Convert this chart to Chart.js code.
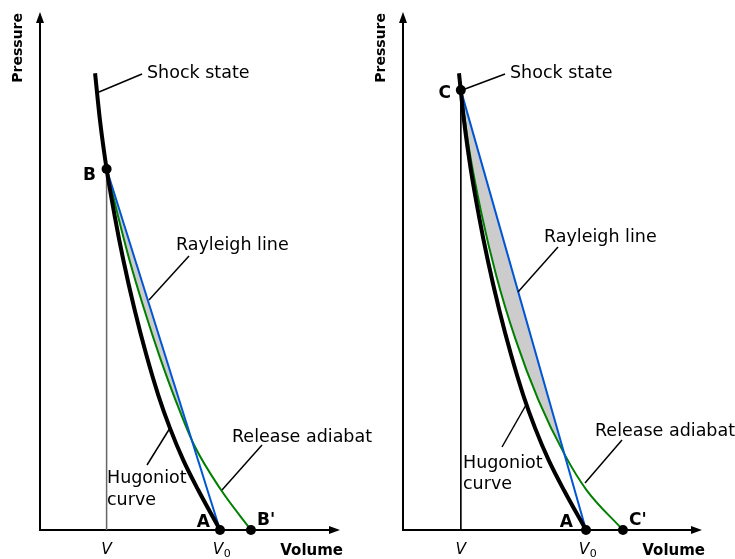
<!DOCTYPE html>
<html>
<head>
<meta charset="utf-8">
<script src="https://cdn.jsdelivr.net/npm/chart.js@4"></script>
<style>
  html, body { margin: 0; padding: 0; background: #fff; }
  #wrap { position: relative; width: 735px; height: 559px; overflow: hidden; }
  canvas { position: absolute; top: 0; display: block; }
  #left { left: 0; }
  #right { left: 367px; }
</style>
</head>
<body>
<div id="wrap">
  <canvas id="left" width="380" height="559"></canvas>
  <canvas id="right" width="368" height="559"></canvas>
</div>
<script>
// Volume is relative to V0, pressure in arbitrary units
const hugoniotV = [0.306, 0.333, 0.37, 0.414, 0.463, 0.526, 0.591, 0.657, 0.722, 0.796, 0.879, 1.0];
const hugoniotP = [12.69, 11.39, 10.03, 8.75, 7.5, 6.11, 4.86, 3.75, 2.83, 1.94, 1.11, 0];

// Left panel: shock to B, release to B'
const leftRayleighV = [0.37, 1.0];
const leftRayleighP = [10.03, 0];
const leftReleaseV = [0.37, 0.432, 0.497, 0.58, 0.662, 0.753, 0.856, 1.006, 1.172];
const leftReleaseP = [10.03, 8.75, 7.5, 6.11, 4.86, 3.61, 2.36, 1.11, 0];
const leftStateV = [0.37, 1.0, 1.172];
const leftStateP = [10.03, 0, 0];

// Right panel: stronger shock to C, release to C'
const rightRayleighV = [0.316, 1.0];
const rightRayleighP = [12.22, 0];
const rightReleaseV = [0.316, 0.362, 0.428, 0.509, 0.616, 0.74, 0.885, 1.003, 1.202];
const rightReleaseP = [12.22, 10.56, 8.81, 7.08, 5.28, 3.61, 2.08, 1.11, 0];
const rightStateV = [0.316, 1.0, 1.202];
const rightStateP = [12.22, 0, 0];

const tickLabels = ['V', 'V0'];

const FONT = '"DejaVu Sans", Verdana, sans-serif';
const pts = (vs, ps) => vs.map((v, i) => ({ x: v, y: ps[i] }));

// axes with arrow heads, drawn under the curves
const axesPlugin = {
  id: 'axesPlugin',
  beforeDatasetsDraw(chart) {
    const ctx = chart.ctx;
    const xs = chart.scales.x, ys = chart.scales.y;
    const x0 = xs.getPixelForValue(0), y0 = ys.getPixelForValue(0);
    const top = chart.chartArea.top, right = chart.chartArea.right;
    ctx.save();
    ctx.strokeStyle = '#000';
    ctx.fillStyle = '#000';
    ctx.lineWidth = 2;
    ctx.beginPath();
    ctx.moveTo(x0, y0 + 1);
    ctx.lineTo(x0, top + 8);
    ctx.moveTo(x0 - 1, y0);
    ctx.lineTo(right - 8, y0);
    ctx.stroke();
    ctx.beginPath();
    ctx.moveTo(x0, top);
    ctx.lineTo(x0 - 4, top + 11);
    ctx.lineTo(x0 + 4, top + 11);
    ctx.closePath();
    ctx.fill();
    ctx.beginPath();
    ctx.moveTo(right, y0);
    ctx.lineTo(right - 11, y0 - 4);
    ctx.lineTo(right - 11, y0 + 4);
    ctx.closePath();
    ctx.fill();
    ctx.restore();
  }
};

// labels, leader lines and the V / V0 ticks
const notesPlugin = {
  id: 'notesPlugin',
  afterDatasetsDraw(chart, args, opts) {
    const ctx = chart.ctx;
    const xs = chart.scales.x;
    ctx.save();
    ctx.strokeStyle = '#000';
    ctx.lineWidth = 1.5;
    opts.leaders.forEach(l => {
      ctx.beginPath();
      ctx.moveTo(l[0], l[1]);
      ctx.lineTo(l[2], l[3]);
      ctx.stroke();
    });
    ctx.fillStyle = '#000';
    ctx.textBaseline = 'alphabetic';
    opts.texts.forEach(t => {
      ctx.font = t.font || ('17.5px ' + FONT);
      ctx.textAlign = t.align || 'left';
      ctx.fillText(t.text, t.x, t.y);
    });

    // axis names
    ctx.font = 'bold 15px ' + FONT;
    ctx.textAlign = 'right';
    ctx.fillText('Volume', chart.chartArea.right + 3, 555);
    ctx.save();
    ctx.translate(opts.pressureX, 13);
    ctx.rotate(-Math.PI / 2);
    ctx.font = 'bold 14px ' + FONT;
    ctx.textAlign = 'right';
    ctx.textBaseline = 'middle';
    ctx.fillText('Pressure', 0, 0);
    ctx.restore();

    // ticks at V and V0
    opts.ticks.forEach((v, i) => {
      const px = xs.getPixelForValue(v);
      const name = tickLabels[i];
      ctx.font = 'oblique 15.5px ' + FONT;
      ctx.textAlign = 'center';
      if (name.length === 1) {
        ctx.fillText(name, px, 554);
      } else {
        ctx.fillText(name[0], px - 2, 554);
        const w = ctx.measureText(name[0]).width;
        ctx.font = '11px ' + FONT;
        ctx.textAlign = 'left';
        ctx.fillText(name.slice(1), px - 2 + w / 2 + 0.5, 557);
      }
    });
    ctx.restore();
  }
};

function panelDatasets(stateV, stateP, rayV, rayP, relV, relP, lineColor, lineWidth) {
  return [
    { label: 'States', data: pts(stateV, stateP), showLine: false,
      pointRadius: 5, pointBackgroundColor: '#000', pointBorderWidth: 0, clip: false },
    { label: 'Hugoniot curve', data: pts(hugoniotV, hugoniotP), borderColor: '#000', borderWidth: 4,
      cubicInterpolationMode: 'monotone', pointRadius: 0, fill: false, clip: false },
    { label: 'Rayleigh line', data: pts(rayV, rayP), borderColor: '#0055d4', borderWidth: 2,
      pointRadius: 0, clip: false,
      fill: { target: 3, above: '#cccccc', below: 'rgba(0,0,0,0)' } },
    { label: 'Release adiabat', data: pts(relV, relP), borderColor: '#008000', borderWidth: 2,
      cubicInterpolationMode: 'monotone', pointRadius: 0, fill: false, clip: false },
    { label: 'V', data: pts([stateV[0], stateV[0]], [stateP[0], 0]), borderColor: lineColor,
      borderWidth: lineWidth, pointRadius: 0, fill: false }
  ];
}

function makePanel(id, datasets, xMax, padding, notes) {
  return new Chart(document.getElementById(id), {
    type: 'line',
    data: { datasets: datasets },
    options: {
      responsive: false,
      animation: false,
      layout: { padding: padding },
      scales: {
        x: { type: 'linear', min: 0, max: xMax, display: false },
        y: { type: 'linear', min: 0, max: 14.39, display: false }
      },
      plugins: {
        legend: { display: false },
        tooltip: { enabled: false },
        filler: { drawTime: 'beforeDatasetsDraw' },
        notesPlugin: notes
      }
    },
    plugins: [axesPlugin, notesPlugin]
  });
}

const boldLabel = 'bold 17px ' + FONT;

makePanel('left',
  panelDatasets(leftStateV, leftStateP, leftRayleighV, leftRayleighP, leftReleaseV, leftReleaseP, '#666', 1.5),
  300 / 180, { left: 40, right: 40, top: 12, bottom: 29 },
  {
    pressureX: 18.5,
    ticks: [leftStateV[0], 1.0],
    leaders: [[99, 92, 142, 74], [189, 256, 149, 300], [147, 465, 170, 428], [262, 445, 222, 490]],
    texts: [
      { text: 'Shock state', x: 147, y: 78 },
      { text: 'Rayleigh line', x: 176, y: 250 },
      { text: 'Release adiabat', x: 232, y: 442 },
      { text: 'Hugoniot', x: 107, y: 483 },
      { text: 'curve', x: 107, y: 505 },
      { text: 'B', x: 96, y: 180, align: 'right', font: boldLabel },
      { text: 'A', x: 210, y: 527, align: 'right', font: boldLabel },
      { text: "B'", x: 257, y: 525, font: boldLabel }
    ]
  });

makePanel('right',
  panelDatasets(rightStateV, rightStateP, rightRayleighV, rightRayleighP, rightReleaseV, rightReleaseP, '#000', 1),
  299 / 183, { left: 36, right: 33, top: 12, bottom: 29 },
  {
    pressureX: 14.5,
    ticks: [rightStateV[0], 1.0],
    leaders: [[98, 89, 138, 74], [191, 247, 151, 292], [135, 447, 159, 405], [255, 440, 218, 483]],
    texts: [
      { text: 'Shock state', x: 143, y: 78 },
      { text: 'Rayleigh line', x: 177, y: 242 },
      { text: 'Release adiabat', x: 228, y: 436 },
      { text: 'Hugoniot', x: 96, y: 468 },
      { text: 'curve', x: 96, y: 489 },
      { text: 'C', x: 84, y: 98, align: 'right', font: boldLabel },
      { text: 'A', x: 206, y: 527, align: 'right', font: boldLabel },
      { text: "C'", x: 262, y: 525, font: boldLabel }
    ]
  });
</script>
</body>
</html>
